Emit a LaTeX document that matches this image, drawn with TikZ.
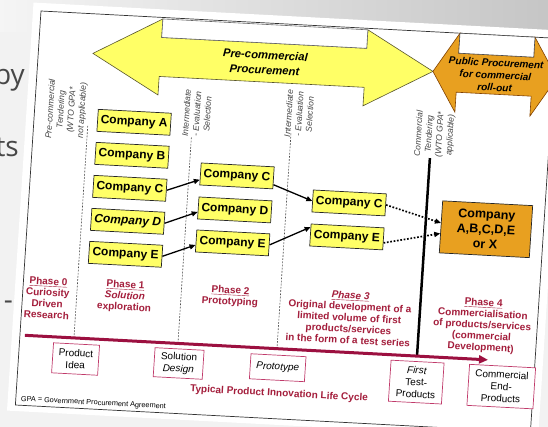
\documentclass[tikz,border=0pt]{standalone}
\usepackage{fontspec}
\setmainfont{Liberation Sans}
\newfontfamily\slidefont{Open Sans}
\usetikzlibrary{arrows.meta,calc}
\definecolor{compyellow}{HTML}{FFFF66}
\definecolor{orangeP}{HTML}{E8A020}
\definecolor{phasered}{HTML}{A41E3C}
\definecolor{lineRed}{HTML}{9C1040}
\definecolor{boxred}{HTML}{C03A6A}
\definecolor{lblgray}{HTML}{454545}
\begin{document}
\begin{tikzpicture}[x=1pt,y=-1pt,
 comp/.style={draw=black!85,line width=0.7pt,fill=compyellow,minimum width=73pt,minimum height=22pt,inner sep=0pt,font=\bfseries\fontsize{12}{14}\selectfont},
 bigbox/.style={draw=black!85,line width=0.7pt,fill=orangeP,minimum width=90pt,minimum height=52pt,inner sep=0pt,align=center,font=\bfseries\fontsize{12.5}{15}\selectfont},
 lbl/.style={rotate=90,align=center,inner sep=0pt,text=lblgray,font=\itshape\fontsize{8.5}{10.5}\selectfont},
 phase/.style={anchor=north,align=center,inner sep=0pt,text=phasered,font=\bfseries\fontsize{10}{11.2}\selectfont},
 life/.style={draw=boxred,line width=0.7pt,fill=white,align=center,inner sep=0pt,font=\fontsize{10}{12}\selectfont},
 dline/.style={black!70,line width=0.6pt,dash pattern=on 1.8pt off 1.4pt},
 conn/.style={-{Triangle[length=6pt,width=5pt]},line width=1.3pt},
 dconn/.style={-{Triangle[length=6pt,width=5pt]},line width=1.7pt,dash pattern=on 1.7pt off 1.7pt},
 slide/.style={anchor=base east,inner sep=0pt,text=black!72,font=\slidefont\fontsize{28}{30}\selectfont}
]
\useasboundingbox (0,0) rectangle (548,427);
\fill[gray!10] (0,0) rectangle (548,427);
\shade[left color=gray!8, right color=gray!45] (0,0) rectangle (548,32);
\node[slide] (sby) at (25,85) {by};
\node[slide] (sts) at (19,157) {ts};
\node[slide] (sdash) at (13,309) {-};
\begin{scope}[cm={1,-0.053,0.065,1,(41pt,-11pt)},transform shape]
 % page
 \fill[white] (-8,-8) rectangle (523,400);
 \draw[black!80,line width=0.7pt] (0,0) rectangle (515,394);
 % yellow double arrow
 \draw[fill=compyellow,draw=black!50!olive,line width=0.6pt]
   (54.5,39.5) -- (122,1.5) -- (122,20) -- (327,20) -- (327,1.5) -- (394.5,39.5)
   -- (327,77.5) -- (327,59) -- (122,59) -- (122,77.5) -- cycle;
 \draw[fill=white,draw=black!60,line width=0.6pt] (122,1.5) rectangle (327,20);
 \node[align=center,inner sep=0pt,font=\bfseries\itshape\fontsize{11.3}{15}\selectfont] (pcp) at (226.5,39.5) {Pre-commercial\\Procurement};
 % orange double arrow
 \draw[fill=orangeP,draw=black!50!orange,line width=0.6pt]
   (394.5,39.5) -- (419,0) -- (419,20) -- (494,20) -- (494,0) -- (518.5,39.5)
   -- (494,79) -- (494,59) -- (419,59) -- (419,79) -- cycle;
 \draw[fill=white,draw=black!70,line width=0.6pt] (419,0) rectangle (494,20);
 \node[align=center,inner sep=0pt,font=\bfseries\itshape\fontsize{10}{12.3}\selectfont] (pp) at (457,40) {Public Procurement\\for commercial\\roll-out};
 % rotated labels
 \node[lbl] (l1) at (32,97) {Pre-commercial\\Tendering\\(WTO GPA*\\not applicable)};
 \node[lbl] (l2) at (162,94) {Intermediate\\- Evaluation\\Selection};
 \node[lbl] (l3) at (264,89) {Intermediate\\- Evaluation\\Selection};
 \node[lbl] (l4) at (400.5,102) {Commercial\\Tendering\\(WTO GPA*\\applicable)};
 % vertical lines
 \coordinate (d1t) at (54,112);  \coordinate (d1b) at (54,324);
 \coordinate (d2t) at (158,118); \coordinate (d2b) at (158,324);
 \coordinate (d3t) at (257,109); \coordinate (d3b) at (257,324);
 \coordinate (tkt) at (397,126); \coordinate (tkb) at (397,324);
 \draw[dline] (d1t) -- (d1b);
 \draw[dline] (d2t) -- (d2b);
 \draw[dline] (d3t) -- (d3b);
 \draw[line width=2.5pt] (tkt) -- (tkb);
 % companies
 \node[comp] (a1) at (100,106) {Company A};
 \node[comp] (b1) at (100,139) {Company B};
 \node[comp] (c1) at (100,172) {Company C};
 \node[comp] (d1) at (100,205) {\itshape Company D};
 \node[comp] (e1) at (100,238) {Company E};
 \node[comp] (c2) at (206,154) {Company C};
 \node[comp] (d2) at (206,188) {Company D};
 \node[comp] (e2) at (206,221) {Company E};
 \node[comp] (c3) at (319.5,175) {Company C};
 \node[comp] (e3) at (319.5,209) {Company E};
 \node[bigbox] (all) at (457.6,194) {Company\\A,B,C,D,E\\or X};
 % connectors
 \draw[conn] (c1.east) -- ($(c2.west)!0.5!(c2.south west)$);
 \draw[conn] (d1.east) -- ($(d2.west)!0.35!(d2.south west)$);
 \draw[conn] (e1.east) -- ($(e2.west)!0.35!(e2.south west)$);
 \draw[conn] ($(c2.east)!0.6!(c2.south east)$) -- (c3.west);
 \draw[conn] (e2.east) -- ($(e3.west)!0.7!(e3.north west)$);
 \draw[dconn] (c3.east) -- ($(all.west)!0.15!(all.north west)$);
 \draw[dconn] ($(e3.east)!0.35!(e3.south east)$) -- ($(all.west)!0.25!(all.south west)$);
 % phases
 \node[phase] (ph0) at (25,265) {\underline{Phase 0}\\Curiosity\\Driven\\Research};
 \node[phase] (ph1) at (102,264) {\underline{Phase 1}\\\textit{Solution}\\exploration};
 \node[phase] (ph2) at (207,264) {\underline{Phase 2}\\Prototyping};
 \node[phase] (ph3) at (327,263) {\underline{\textit{Phase 3}}\\Original development of a\\limited volume of first\\products/services\\in the form of a test series};
 \node[phase] (ph4) at (460,263) {\underline{Phase 4}\\Commercialisation\\of products/services\\(commercial\\Development)};
 % timeline
 \coordinate (tls) at (5,324);
 \coordinate (tle) at (468,324);
 \draw[lineRed,line width=3pt,-{Triangle[length=9pt,width=8pt]}] (tls) -- (tle);
 % life cycle boxes
 \node[life,minimum width=46pt,minimum height=30pt] (idea) at (57,345) {Product\\Idea};
 \node[life,minimum width=49pt,minimum height=29pt] (sol) at (160,344) {Solution\\\textit{Design}};
 \node[life,minimum width=55pt,minimum height=25pt] (proto) at (259,343) {\textit{Prototype}};
 \node[life,minimum width=53pt,minimum height=41pt] (first) at (398,350) {\textit{First}\\Test-\\Products};
 \node[life,minimum width=66pt,minimum height=41pt] (end) at (483,350) {Commercial\\End-\\Products};
 \node[inner sep=0pt,text=phasered,font=\bfseries\fontsize{10}{12}\selectfont] (tpl) at (262,369) {Typical Product Innovation Life Cycle};
 \node[anchor=west,inner sep=0pt,font=\fontsize{7.3}{9}\selectfont] (gpa) at (5,388) {GPA = Government Procurement Agreement};
\end{scope}
\end{tikzpicture}
\end{document}
